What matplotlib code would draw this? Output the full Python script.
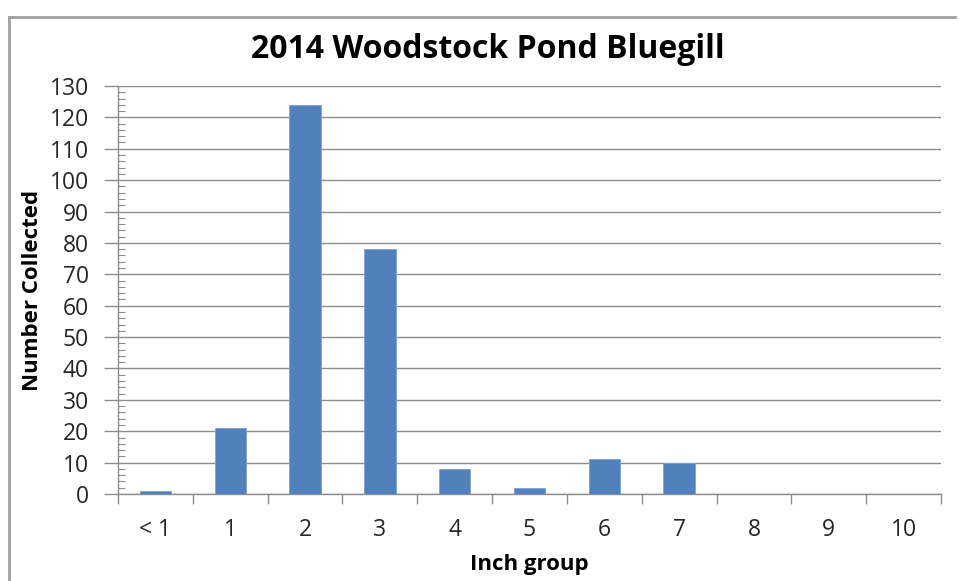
import matplotlib.pyplot as plt
from matplotlib.lines import Line2D
from matplotlib.ticker import MultipleLocator, FixedLocator
import numpy as np

categories = ["< 1", "1", "2", "3", "4", "5", "6", "7", "8", "9", "10"]
counts = [1, 21, 124, 78, 8, 2, 11, 10, 0, 0, 0]

W, H = 959, 581
plt.rcParams["font.family"] = ["Open Sans", "DejaVu Sans"]

fig = plt.figure(figsize=(W / 100, H / 100), dpi=100)
ax = fig.add_axes([118 / W, 87 / H, (941 - 118) / W, 408 / H])

x = np.arange(len(categories))
ax.bar(x, counts, width=0.42, color="#4F81BD", edgecolor="#7FA3D0", linewidth=0.6, zorder=3)

ax.set_xlim(-0.5, len(categories) - 0.5)
ax.set_ylim(0, 130)
ax.yaxis.set_major_locator(MultipleLocator(10))
ax.yaxis.set_minor_locator(MultipleLocator(2))
ax.grid(True, axis="y", color="#8C8C8C", linewidth=1.0, zorder=0)

ax.set_xticks(x)
ax.set_xticklabels(categories)
ax.xaxis.set_minor_locator(FixedLocator(np.arange(-0.5, len(categories), 1.0)))
ax.tick_params(axis="x", which="major", length=0, pad=17, labelsize=16.5, labelcolor="#262626")
ax.tick_params(axis="x", which="minor", length=7, direction="out", color="#8C8C8C", width=1)
ax.tick_params(axis="y", which="major", length=10, direction="out", color="#8C8C8C", width=1,
               pad=11, labelsize=16.5, labelcolor="#262626")
ax.tick_params(axis="y", which="minor", length=5, direction="in", color="#8C8C8C", width=0.8)

for side in ["top", "right"]:
    ax.spines[side].set_visible(False)
for side in ["left", "bottom"]:
    ax.spines[side].set_color("#8C8C8C")
    ax.spines[side].set_linewidth(1.0)

fig.text(488 / W, 1 - 50 / H, "2014 Woodstock Pond Bluegill", fontsize=23, fontweight="bold",
         ha="center", va="center")
ax.set_xlabel("Inch group", fontsize=16, fontweight="bold", labelpad=9)
ax.set_ylabel("Number Collected", fontsize=16, fontweight="bold", labelpad=5)

# outer chart frame
fig.add_artist(Line2D([8.5 / W, 8.5 / W], [0, 1 - 17 / H], transform=fig.transFigure,
                      color="#A0A0A0", linewidth=2))
fig.add_artist(Line2D([8.5 / W, 955 / W], [1 - 17 / H, 1 - 17 / H], transform=fig.transFigure,
                      color="#A0A0A0", linewidth=2))

fig.savefig("out.png", dpi=100)
